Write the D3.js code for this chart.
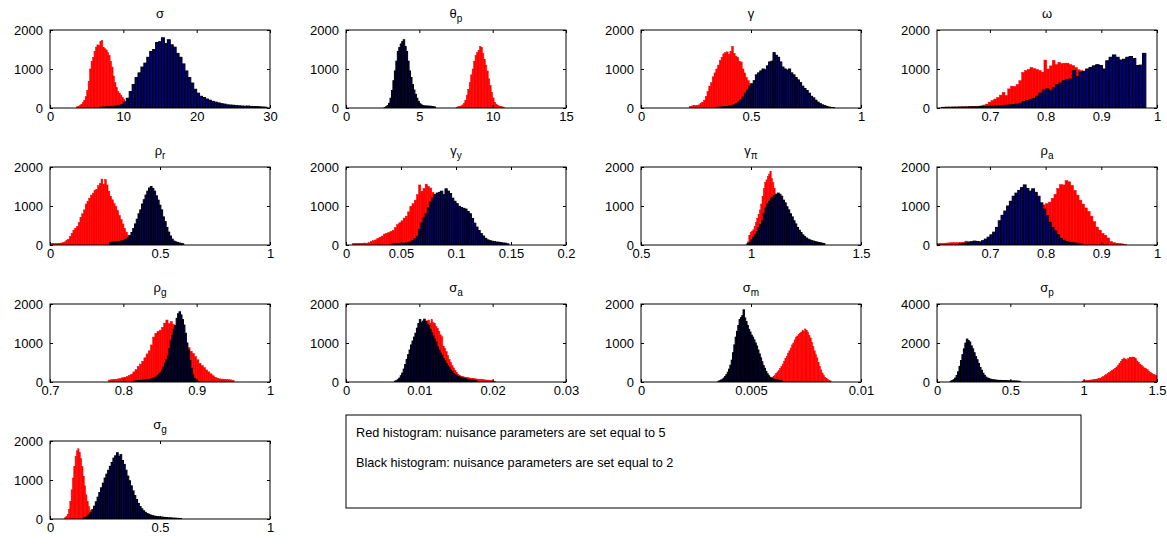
<!DOCTYPE html>
<html><head><meta charset="utf-8">
<script src="https://cdn.jsdelivr.net/npm/d3@7"></script>
<style>
html,body{margin:0;padding:0;background:#fff;}
svg{display:block;font-family:"Liberation Sans",Arial,Helvetica,sans-serif;}
</style></head>
<body><svg id="c" width="1167" height="547"></svg>
<script>
// ---------- DATA ----------
const titleMain = ["σ","θ","γ","ω","ρ","γ","γ","ρ","ρ","σ","σ","σ","σ"];
const titleSub  = ["","p","","","r","y","π","a","g","a","m","p","g"];
const xDomains = [[0,30],[0,15],[0,1],[0.605,1],[0,1],[0,0.2],[0.5,1.5],[0.605,1],[0.7,1],[0,0.03],[0,0.01],[0,1.5],[0,1]];
const xTicks = [[0,10,20,30],[0,5,10,15],[0,0.5,1],[0.7,0.8,0.9,1],[0,0.5,1],[0,0.05,0.1,0.15,0.2],[0.5,1,1.5],[0.7,0.8,0.9,1],[0.7,0.8,0.9,1],[0,0.01,0.02,0.03],[0,0.005,0.01],[0,0.5,1,1.5],[0,0.5,1]];
const yMax = [2000,2000,2000,2000,2000,2000,2000,2000,2000,2000,2000,4000,2000];
const yTicks = [[0,1000,2000],[0,1000,2000],[0,1000,2000],[0,1000,2000],[0,1000,2000],[0,1000,2000],[0,1000,2000],[0,1000,2000],[0,1000,2000],[0,1000,2000],[0,1000,2000],[0,2000,4000],[0,1000,2000]];
// histogram bins: [first bin left edge, bin width]
const redBins   = [[3.6,0.2],[7.5,0.1],[0.22,0.008],[0.612,0.005],[0,0.008],[0.006,0.002],[0.978,0.006],[0.605,0.005],[0.78,0.003],[0.0072,0.0002],[0.0057,0.00006],[0.99,0.01],[0.066,0.006]];
const blackBins = [[6.8,0.4],[2.6,0.1],[0.34,0.01],[0.614,0.006],[0.272,0.008],[0.042,0.002],[0.984,0.008],[0.645,0.005],[0.814,0.002],[0.0066,0.0002],[0.0035,0.00006],[0.09,0.01],[0.15,0.008]];

const redSigma = [30,40,60,90,140,200,290,450,680,1000,1200,1300,1450,1560,1620,1600,1700,1730,1550,1520,1490,1420,1350,1200,1050,820,650,520,420,370,330,270,220,170,120,80,50,30];
const blackSigma = [20,25,30,30,40,45,60,90,150,250,420,600,780,900,1050,1150,1300,1450,1500,1680,1700,1800,1650,1750,1620,1560,1400,1300,1130,950,780,640,480,380,300,270,230,200,170,150,130,110,100,80,75,70,60,55,50,45,50,40,35,35,30,25,20];
const redTheta = [20,30,40,50,80,120,200,330,480,650,850,1000,1200,1350,1420,1480,1580,1550,1400,1250,1100,950,750,580,400,260,150,100,70,50,40,30,20];
const blackTheta = [10,30,60,120,250,450,700,950,1200,1450,1550,1640,1700,1750,1580,1450,1200,950,780,600,460,350,250,170,110,80,60,55,50,50,45,45,40,35,25];
const redGamma = [40,50,60,60,70,80,110,150,200,300,420,560,650,800,900,1000,1100,1220,1300,1390,1420,1440,1380,1450,1580,1400,1330,1300,1200,1180,1000,900,780,700,630,560,480,400,330,260,200,150,100,60];
const blackGamma = [15,20,25,30,35,40,50,60,80,110,150,200,280,380,460,560,620,700,850,900,950,1000,980,1080,1180,1200,1420,1350,1300,1180,1050,1000,970,1000,900,850,780,720,650,560,500,450,380,300,260,200,150,110,80,60,40,25,15,10];
const redOmega = [20,20,20,20,25,25,25,25,30,30,30,35,35,40,55,75,100,150,190,230,270,330,400,320,490,560,550,600,700,910,960,990,1040,1010,990,960,920,1230,1000,1080,1220,1110,1170,1140,1150,1150,1110,1090,1040,980,960,920,880,850,820,800,770,750,720,700,670,650,620,600,570,550,520,500,480,450,430,400];
const blackOmega = [15,20,20,20,20,25,25,25,30,30,30,35,35,40,40,45,50,55,65,70,80,90,100,120,160,190,210,240,300,380,460,490,440,520,600,640,700,730,740,960,800,920,940,1000,1040,1080,1110,1090,1000,1210,1300,1360,1300,1230,1250,1300,1320,1270,1090,1100,1400];
const redRhoR = [30,35,35,40,40,45,50,60,80,110,150,220,300,380,430,480,580,700,800,900,1050,1120,1200,1280,1330,1400,1420,1520,1580,1690,1560,1680,1540,1380,1250,1160,1060,990,880,760,650,540,420,330,250,200,150,110,80,60,40];
const blackRhoR = [60,70,75,80,85,90,100,110,130,150,180,240,320,420,540,660,800,900,1050,1160,1280,1380,1460,1500,1450,1380,1260,1150,1020,900,720,600,450,330,230,150,100,80,65,50,40,30];
const redGammaY = [40,45,45,45,45,50,45,60,90,110,130,170,200,230,280,300,320,350,380,450,520,570,620,690,740,850,990,1060,1150,1290,1540,1380,1450,1560,1500,1460,1350,1250,1100,950,800,650,500,380,270,180,120,80];
const blackGammaY = [30,35,35,40,40,45,50,60,80,110,160,220,400,560,700,800,950,1100,1200,1290,1330,1350,1380,1290,1440,1380,1320,1200,1120,1060,990,960,940,920,860,800,680,560,460,370,290,230,170,130,110,95,85,75,70,60,50,45,30];
const redGammaPi = [30,80,250,320,350,390,480,580,680,780,900,1050,1250,1450,1600,1670,1760,1820,1890,1700,1600,1450,1300,1200,1100,1000,900,820,730,650,570,500,430,370,320,270,230,200,170,140,120,100,85,70,60,50,40,35,30];
const blackGammaPi = [40,70,130,200,260,340,440,520,620,800,950,1050,1120,1200,1230,1270,1300,1330,1300,1250,1150,1080,980,900,800,720,620,540,450,380,320,260,220,180,150,130,110,100,85,75,65,55,45,35];
const redRhoA = [40,40,45,50,55,60,60,60,65,70,100,90,85,70,60,70,90,110,150,200,250,300,340,380,420,460,500,540,580,620,660,700,740,780,820,880,950,990,1030,1060,1100,1200,1300,1450,1550,1540,1650,1620,1530,1400,1280,1150,1050,950,860,740,600,460,380,300,250,180,90,60,45,40,30,20];
const blackRhoA = [30,40,50,60,80,100,90,80,110,150,200,260,330,450,620,760,870,1000,1120,1250,1330,1400,1470,1540,1450,1380,1440,1350,1250,1080,920,750,580,450,360,260,170,120,90,70,60,50,40,30];
const redRhoG = [50,60,70,70,80,90,110,120,140,170,200,260,320,400,460,530,620,720,800,950,1150,1250,1300,1330,1400,1510,1590,1500,1550,1480,1400,1300,1200,1100,1000,940,880,790,730,650,570,480,420,370,310,260,210,160,120,100,80,75,70,65,60,55,40];
const blackRhoG = [20,30,35,35,40,40,45,50,55,60,65,70,80,95,110,130,160,200,240,300,380,470,560,660,850,1050,1200,1350,1450,1630,1750,1800,1720,1600,1460,1250,1000,820,550,350,180,90,40,20];
const redSigmaA = [20,40,70,110,160,230,320,420,530,650,780,900,1020,1150,1280,1380,1450,1500,1540,1570,1590,1510,1600,1520,1500,1420,1370,1300,1210,1160,920,860,780,680,580,500,420,360,300,240,200,170,150,140,130,120,115,110,100,95,90,85,80,75,70,65,60,60,55,50,50,45,40,35,30,20];
const blackSigmaA = [20,35,60,100,160,230,330,450,580,700,820,950,1050,1150,1250,1380,1500,1600,1520,1560,1610,1550,1470,1450,1350,1260,1180,1100,1020,900,820,740,680,600,540,470,410,360,300,260,220,190,160,140,125,110,100,90,80,70,60,55,50,45,40,30];
const redSigmaM = [40,50,70,90,120,150,180,220,260,300,350,400,460,530,600,660,740,800,870,950,1000,1080,1150,1180,1220,1250,1280,1320,1300,1360,1320,1280,1200,1130,1020,910,800,700,620,500,400,310,230,170,120,85,60,40,30];
const blackSigmaM = [20,30,50,70,100,140,190,250,330,430,560,750,950,1150,1300,1450,1600,1650,1700,1850,1640,1550,1450,1350,1280,1200,1150,1080,1000,920,820,720,620,520,420,350,270,210,160,120,95,80,70,60,55,50,40,35,25];
const redSigmaP = [50,70,75,85,90,100,105,115,120,140,160,180,200,240,280,330,380,430,480,540,600,640,700,770,850,950,1050,1150,1230,1180,1140,1200,1270,1250,1280,1270,1200,1080,1000,920,860,780,720,680,630,560,500,450,400,370,330];
const blackSigmaP = [40,70,120,200,330,520,800,1100,1400,1700,1990,2200,2120,2050,1850,1700,1500,1300,1140,950,750,600,450,340,250,200,170,140,120,110,100,90,85,80,80,75,70,70,65,60,60,55,50,50,50,45,40,30];
const redSigmaG = [30,60,120,250,450,750,1050,1350,1600,1750,1800,1700,1550,1350,1100,850,620,450,320,220,150,100,70,50,30];
const blackSigmaG = [20,40,70,110,160,240,330,440,560,680,800,920,1050,1150,1250,1350,1450,1560,1620,1700,1600,1650,1500,1400,1250,1100,980,850,720,600,500,400,320,260,210,170,140,120,100,85,75,65,60,55,50,45,40,35,30,30,25,20,20,15,15,10];

const redCounts = [redSigma,redTheta,redGamma,redOmega,redRhoR,redGammaY,redGammaPi,redRhoA,redRhoG,redSigmaA,redSigmaM,redSigmaP,redSigmaG];
const blackCounts = [blackSigma,blackTheta,blackGamma,blackOmega,blackRhoR,blackGammaY,blackGammaPi,blackRhoA,blackRhoG,blackSigmaA,blackSigmaM,blackSigmaP,blackSigmaG];
const legendLines = ["Red histogram: nuisance parameters are set equal to 5","Black histogram: nuisance parameters are set equal to 2"];

// ---------- LAYOUT ----------
const colX = [50,346,641,937], rowY = [30,167,304,441];
const W = 220, H = 78;
const svg = d3.select("#c");
const fmt = d3.format("~g");

titleMain.forEach((t,i)=>{
  const gx = colX[i%4], gy = rowY[Math.floor(i/4)];
  const g = svg.append("g").attr("transform",`translate(${gx},${gy})`);
  const x = d3.scaleLinear().domain(xDomains[i]).range([0,W]);
  const y = d3.scaleLinear().domain([0,yMax[i]]).range([H,0]);
  const cid = "clip"+i;
  g.append("clipPath").attr("id",cid).append("rect").attr("width",W).attr("height",H);
  const plot = g.append("g").attr("clip-path",`url(#${cid})`);
  const drawHist = (counts, bins, fill, stroke, sw) => {
    plot.append("g").selectAll("rect").data(counts).join("rect")
      .attr("x",(d,k)=>x(bins[0]+k*bins[1]))
      .attr("width",(d,k)=>x(bins[0]+(k+1)*bins[1])-x(bins[0]+k*bins[1]))
      .attr("y",d=>y(d)).attr("height",d=>y(0)-y(d))
      .attr("fill",fill).attr("stroke",stroke).attr("stroke-width",sw);
  };
  drawHist(redCounts[i], redBins[i], "#ff0000", "#ff0000", 0.5);
  drawHist(blackCounts[i], blackBins[i], "#000080", "#000000", 1);

  const tick = 3;
  const ax = (axis, tr, labels) => {
    const a = g.append("g").attr("transform",tr).call(axis);
    a.select(".domain").remove();
    a.selectAll("line").attr("stroke","#000");
    a.selectAll("text").attr("fill","#000").style("font-size","13px");
    if(!labels) a.selectAll("text").remove();
    return a;
  };
  ax(d3.axisBottom(x).tickValues(xTicks[i]).tickFormat(fmt).tickSize(-tick).tickPadding(4), `translate(0,${H})`, true);
  ax(d3.axisTop(x).tickValues(xTicks[i]).tickSize(-tick), `translate(0,0)`, false);
  ax(d3.axisLeft(y).tickValues(yTicks[i]).tickFormat(fmt).tickSize(-tick).tickPadding(7), `translate(0,0)`, true);
  ax(d3.axisRight(y).tickValues(yTicks[i]).tickSize(-tick), `translate(${W},0)`, false);
  g.append("rect").attr("width",W).attr("height",H).attr("fill","none").attr("stroke","#000").attr("stroke-width",1);

  const tt = g.append("text").attr("x",W/2).attr("y",-12).attr("text-anchor","middle").style("font-size","13px").attr("fill","#000");
  tt.append("tspan").text(t);
  if(titleSub[i]) tt.append("tspan").attr("dy",4).style("font-size","10px").text(titleSub[i]);
});

// legend box
const lb = svg.append("g");
lb.append("rect").attr("x",346).attr("y",415).attr("width",735).attr("height",93).attr("fill","#fff").attr("stroke","#000").attr("stroke-width",1);
lb.selectAll("text").data(legendLines).join("text")
  .attr("x",356).attr("y",(d,k)=>437+k*30).style("font-size","12.7px").attr("fill","#000").text(d=>d);
</script></body></html>
